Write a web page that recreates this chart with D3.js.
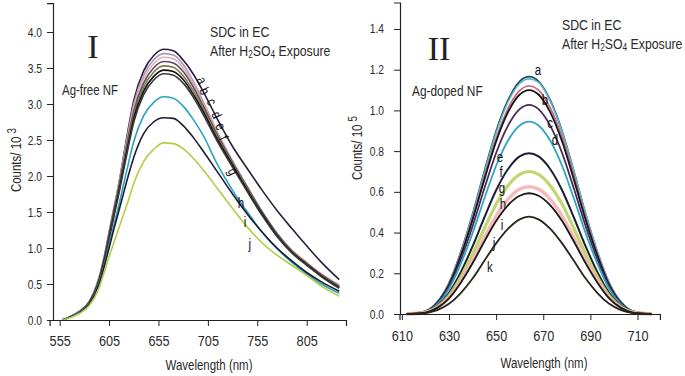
<!DOCTYPE html>
<html>
<head>
<meta charset="utf-8">
<script src="https://cdn.jsdelivr.net/npm/d3@7"></script>
<style>
body{margin:0;background:#fff;}
svg text{font-family:"Liberation Sans",Arial,sans-serif;fill:#2a2a2a;}
.roman{font-family:"Liberation Serif","DejaVu Serif",serif;fill:#222;}
.axis path,.axis line{stroke:#222;}
</style>
</head>
<body>
<svg id="chart" width="685" height="376"></svg>
<script>
//panel I : Ag-free NF, counts / 10^3
let freeWl = [558, 565, 575, 585, 595, 600, 605, 610, 615, 620, 625, 630, 640, 650, 660, 670, 680, 690, 700, 715, 730, 745, 760, 775, 790, 805, 820, 838];
let freeNames = ["a", "b", "c", "d", "e", "f", "g", "h", "i", "j"];
let freeSeries = [
	[0, 0.04, 0.12, 0.25, 0.58, 0.85, 1.20, 1.55, 1.90, 2.30, 2.70, 3.05, 3.46, 3.67, 3.76, 3.74, 3.61, 3.42, 3.18, 2.78, 2.41, 2.10, 1.80, 1.52, 1.27, 1.03, 0.80, 0.56],
	[0, 0.04, 0.12, 0.26, 0.60, 0.87, 1.22, 1.57, 1.90, 2.28, 2.66, 3.00, 3.40, 3.61, 3.70, 3.68, 3.55, 3.32, 3.04, 2.60, 2.21, 1.85, 1.50, 1.19, 0.96, 0.79, 0.63, 0.48],
	[0, 0.04, 0.12, 0.26, 0.60, 0.88, 1.22, 1.56, 1.88, 2.25, 2.62, 2.95, 3.35, 3.56, 3.65, 3.63, 3.50, 3.28, 3.01, 2.58, 2.20, 1.84, 1.50, 1.20, 0.97, 0.80, 0.64, 0.49],
	[0, 0.04, 0.12, 0.25, 0.58, 0.86, 1.20, 1.54, 1.86, 2.22, 2.58, 2.90, 3.29, 3.50, 3.59, 3.57, 3.45, 3.24, 2.98, 2.56, 2.19, 1.84, 1.50, 1.20, 0.96, 0.79, 0.63, 0.47],
	[0, 0.04, 0.11, 0.24, 0.56, 0.83, 1.16, 1.50, 1.82, 2.18, 2.53, 2.85, 3.23, 3.44, 3.53, 3.51, 3.39, 3.19, 2.94, 2.53, 2.17, 1.82, 1.48, 1.18, 0.95, 0.78, 0.62, 0.46],
	[0, 0.04, 0.11, 0.24, 0.55, 0.82, 1.14, 1.47, 1.79, 2.14, 2.48, 2.80, 3.18, 3.38, 3.47, 3.45, 3.34, 3.14, 2.90, 2.50, 2.15, 1.80, 1.47, 1.17, 0.94, 0.77, 0.61, 0.45],
	[0, 0.04, 0.11, 0.23, 0.54, 0.80, 1.12, 1.44, 1.76, 2.10, 2.44, 2.75, 3.13, 3.33, 3.42, 3.40, 3.29, 3.10, 2.86, 2.47, 2.12, 1.78, 1.45, 1.16, 0.93, 0.76, 0.60, 0.44],
	[0, 0.04, 0.11, 0.23, 0.52, 0.76, 1.04, 1.32, 1.60, 1.90, 2.20, 2.48, 2.84, 3.02, 3.10, 3.08, 2.97, 2.79, 2.57, 2.15, 1.80, 1.50, 1.22, 0.99, 0.80, 0.64, 0.50, 0.37],
	[0, 0.04, 0.10, 0.22, 0.50, 0.74, 1.00, 1.27, 1.52, 1.78, 2.03, 2.26, 2.59, 2.75, 2.81, 2.80, 2.70, 2.54, 2.35, 2.05, 1.75, 1.47, 1.22, 1.00, 0.82, 0.66, 0.53, 0.40],
	[0, 0.03, 0.09, 0.20, 0.45, 0.66, 0.88, 1.08, 1.28, 1.48, 1.68, 1.90, 2.20, 2.37, 2.46, 2.45, 2.38, 2.25, 2.09, 1.82, 1.55, 1.29, 1.07, 0.90, 0.76, 0.62, 0.47, 0.33]
];
let freeTicksX = [555, 605, 655, 705, 755, 805];
let freeTicksY = [0, 0.5, 1.0, 1.5, 2.0, 2.5, 3.0, 3.5, 4.0];

//panel II : Ag-doped NF, counts / 10^5
let dopedWl = [612, 620, 625, 630, 635, 640, 645, 650, 655, 660, 664, 668, 673, 678, 683, 688, 693, 698, 703, 708, 716];
let dopedNames = ["a", "b", "c", "d", "e", "f", "g", "h", "i", "j", "k"];
let dopedSeries = [
	[0, 0.014, 0.058, 0.152, 0.303, 0.490, 0.700, 0.898, 1.049, 1.143, 1.166, 1.143, 1.049, 0.898, 0.700, 0.490, 0.303, 0.152, 0.058, 0.014, 0],
	[0, 0.014, 0.058, 0.150, 0.300, 0.485, 0.693, 0.889, 1.040, 1.132, 1.155, 1.138, 1.045, 0.895, 0.700, 0.492, 0.305, 0.153, 0.059, 0.014, 0],
	[0, 0.013, 0.056, 0.146, 0.291, 0.470, 0.672, 0.862, 1.008, 1.098, 1.120, 1.100, 1.012, 0.868, 0.677, 0.474, 0.293, 0.147, 0.056, 0.013, 0],
	[0, 0.013, 0.055, 0.143, 0.286, 0.462, 0.660, 0.847, 0.990, 1.078, 1.100, 1.078, 0.990, 0.847, 0.660, 0.462, 0.286, 0.143, 0.055, 0.013, 0],
	[0, 0.012, 0.051, 0.134, 0.267, 0.431, 0.616, 0.791, 0.924, 1.006, 1.027, 1.006, 0.924, 0.791, 0.616, 0.431, 0.267, 0.134, 0.051, 0.012, 0],
	[0, 0.011, 0.047, 0.123, 0.246, 0.397, 0.567, 0.728, 0.851, 0.926, 0.945, 0.926, 0.851, 0.728, 0.567, 0.397, 0.246, 0.123, 0.047, 0.011, 0],
	[0, 0.009, 0.040, 0.103, 0.205, 0.332, 0.474, 0.608, 0.711, 0.774, 0.790, 0.774, 0.711, 0.608, 0.474, 0.332, 0.205, 0.103, 0.040, 0.009, 0],
	[0, 0.008, 0.035, 0.091, 0.182, 0.294, 0.420, 0.539, 0.630, 0.686, 0.700, 0.686, 0.630, 0.539, 0.420, 0.294, 0.182, 0.091, 0.035, 0.008, 0],
	[0, 0.008, 0.031, 0.081, 0.163, 0.263, 0.375, 0.481, 0.563, 0.613, 0.625, 0.613, 0.563, 0.481, 0.375, 0.263, 0.163, 0.081, 0.031, 0.008, 0],
	[0, 0.007, 0.030, 0.077, 0.154, 0.249, 0.356, 0.457, 0.534, 0.581, 0.593, 0.581, 0.534, 0.457, 0.356, 0.249, 0.154, 0.077, 0.030, 0.007, 0],
	[0, 0.005, 0.019, 0.050, 0.103, 0.174, 0.261, 0.347, 0.418, 0.465, 0.478, 0.465, 0.418, 0.347, 0.261, 0.174, 0.103, 0.050, 0.019, 0.005, 0]
];
let dopedTicksX = [610, 630, 650, 670, 690, 710];
let dopedTicksY = [0, 0.2, 0.4, 0.6, 0.8, 1.0, 1.2, 1.4];


//styles
let freeColors = ["#2b1f3d", "#a898bc", "#e2b2ac", "#5e4866", "#7d7a44", "#111111", "#3a3a3a", "#2aa3bf", "#1c1c30", "#b4cc44"];
let dopedColors = ["#1b4a56", "#5fb6ce", "#c8627c", "#161616", "#4a2a58", "#2ea6c6", "#1a1f35", "#b8cf55", "#f2aeb0", "#1a1a1a", "#26261a"];
let dopedWidths = [1.8, 1.6, 1.6, 1.8, 1.8, 1.8, 2, 3.2, 3.6, 1.8, 1.8];
const SX = 0.82; //narrow arial look

//label anchors (wavelength, value)
let freeLabelPos = [[699, 3.33], [702, 3.18], [709, 3.03], [714, 2.85], [718, 2.69], [721, 2.53], [730.5, 2.06], [738.5, 1.63], [742.7, 1.36], [747.5, 1.06]];
let dopedLabelPos = [[667.8, 1.198], [670.7, 1.051], [672.9, 0.938], [675, 0.855], [651.6, 0.771], [652.1, 0.697], [652.5, 0.619], [652.9, 0.54], [652.5, 0.437], [649.1, 0.349], [647.4, 0.231]];

let svg = d3.select("#chart");

//text drawn narrow: position by transform then squeeze horizontally
function narrowText(g, x, y, size, rot){
	return g.append("text")
		.attr("transform", `translate(${x},${y}) rotate(${rot || 0}) scale(${SX},1)`)
		.style("font-size", size + "px");
}

function squeezeAxisText(a, size){
	a.selectAll("text").each(function(){
		let t = d3.select(this);
		let x = +t.attr("x") || 0;
		let y = +t.attr("y") || 0;
		t.attr("x", null).attr("y", null)
			.attr("transform", `translate(${x},${y}) scale(${SX},1)`)
			.style("font-size", size + "px")
			.attr("fill", "#2a2a2a");
	});
}

function addNote(g, x, y){
	narrowText(g, x, y, 15).text("SDC in EC");
	let n2 = narrowText(g, x, y + 19, 15);
	n2.append("tspan").text("After H");
	n2.append("tspan").style("font-size", "10px").attr("dy", "2").text("2");
	n2.append("tspan").attr("dy", "-2").text("SO");
	n2.append("tspan").style("font-size", "10px").attr("dy", "2").text("4");
	n2.append("tspan").attr("dy", "-2").text(" Exposure");
}

function panel(opt){
	let x = d3.scaleLinear().domain(opt.xDomain).range(opt.xRange);
	let y = d3.scaleLinear().domain(opt.yDomain).range(opt.yRange);
	let g = svg.append("g");

	//curves
	let line = d3.line()
		.x((d)=>{ return x(d[0]); })
		.y((d)=>{ return y(d[1]); })
		.curve(d3.curveMonotoneX);

	opt.series.forEach((s, i)=>{
		g.append("path")
			.datum(opt.wl.map((w, k)=>[w, s[k]]))
			.attr("d", line)
			.attr("fill", "none")
			.attr("stroke", opt.colors[i])
			.attr("stroke-opacity", opt.opacity ? opt.opacity[i] : 1)
			.attr("stroke-width", opt.widths ? opt.widths[i] : 1.6);
	});

	//letters on curves
	opt.names.forEach((n, i)=>{
		let p = opt.labelPos[i];
		let rot = opt.labelRot ? opt.labelRot(i) : 0;
		narrowText(g, x(p[0]), y(p[1]), 14, rot)
			.attr("text-anchor", "middle")
			.attr("dominant-baseline", "central")
			.style("fill", "#111")
			.text(n);
	});

	//x axis
	let xAxis = d3.axisBottom(x)
		.tickValues(opt.ticksX)
		.tickSizeOuter(0)
		.tickSize(6)
		.tickPadding(opt.xPad)
		.tickFormat(d3.format("d"));
	g.append("g")
		.attr("class", "axis")
		.attr("transform", `translate(0,${y(0)})`)
		.call(xAxis)
		.call((a)=>{ squeezeAxisText(a, 15.5); });

	//y axis
	let yAxis = d3.axisLeft(y)
		.tickValues(opt.ticksY)
		.tickSizeOuter(0)
		.tickSize(6)
		.tickPadding(opt.yPad)
		.tickFormat(d3.format(".1f"));
	g.append("g")
		.attr("class", "axis")
		.attr("transform", `translate(${opt.yAxisX},0)`)
		.call(yAxis)
		.call((a)=>{ squeezeAxisText(a, 12.5); });

	g.selectAll(".axis .domain").attr("stroke-width", 1.2);

	//y title
	let t = narrowText(g, opt.yTitleX, opt.yTitleY, 14, -90)
		.attr("text-anchor", "middle");
	t.append("tspan").text("Counts/ 10  ");
	t.append("tspan").attr("dy", "-0.45em").style("font-size", "12px").text(opt.exp);

	//x title
	narrowText(g, opt.xTitleX, opt.xTitleY, 14)
		.attr("text-anchor", "middle")
		.text("Wavelength (nm)");

	//roman numeral
	g.append("text")
		.attr("class", "roman")
		.attr("x", opt.romanX)
		.attr("y", opt.romanY)
		.attr("text-anchor", "middle")
		.style("font-size", "34px")
		.text(opt.roman);

	narrowText(g, opt.sampleX, opt.sampleY, opt.sampleSize).text(opt.sample);

	addNote(g, opt.noteX, opt.noteY);
}

panel({
	wl: freeWl, series: freeSeries, names: freeNames, colors: freeColors,
	labelPos: freeLabelPos,
	labelRot: (i)=>{ return i < 7 ? 65 : 0; },
	xDomain: [544.8, 844.8], xRange: [49.6, 346],
	yDomain: [0, 4.4], yRange: [320, 3.2],
	ticksX: freeTicksX, ticksY: freeTicksY,
	xPad: 9, yPad: 5, yAxisX: 53,
	yTitleX: 21, yTitleY: 160, exp: "3",
	xTitleX: 209, xTitleY: 370,
	roman: "I", romanX: 93, romanY: 58,
	sample: "Ag-free NF", sampleX: 62, sampleY: 95, sampleSize: 14,
	noteX: 210, noteY: 37
});

panel({
	wl: dopedWl, series: dopedSeries, names: dopedNames, colors: dopedColors,
	widths: dopedWidths,
	opacity: dopedWidths.map((w)=>{ return w > 3 ? 0.85 : 1; }),
	labelPos: dopedLabelPos,
	xDomain: [609, 719.5], xRange: [399.5, 659.9],
	yDomain: [0, 1.53], yRange: [314, 2.5],
	ticksX: dopedTicksX, ticksY: dopedTicksY,
	xPad: 10, yPad: 10, yAxisX: 400,
	yTitleX: 362, yTitleY: 148, exp: "5",
	xTitleX: 544, xTitleY: 368,
	roman: "II", romanX: 439, romanY: 60,
	sample: "Ag-doped NF", sampleX: 412, sampleY: 96, sampleSize: 14.5,
	noteX: 562, noteY: 30
});
</script>
</body>
</html>
